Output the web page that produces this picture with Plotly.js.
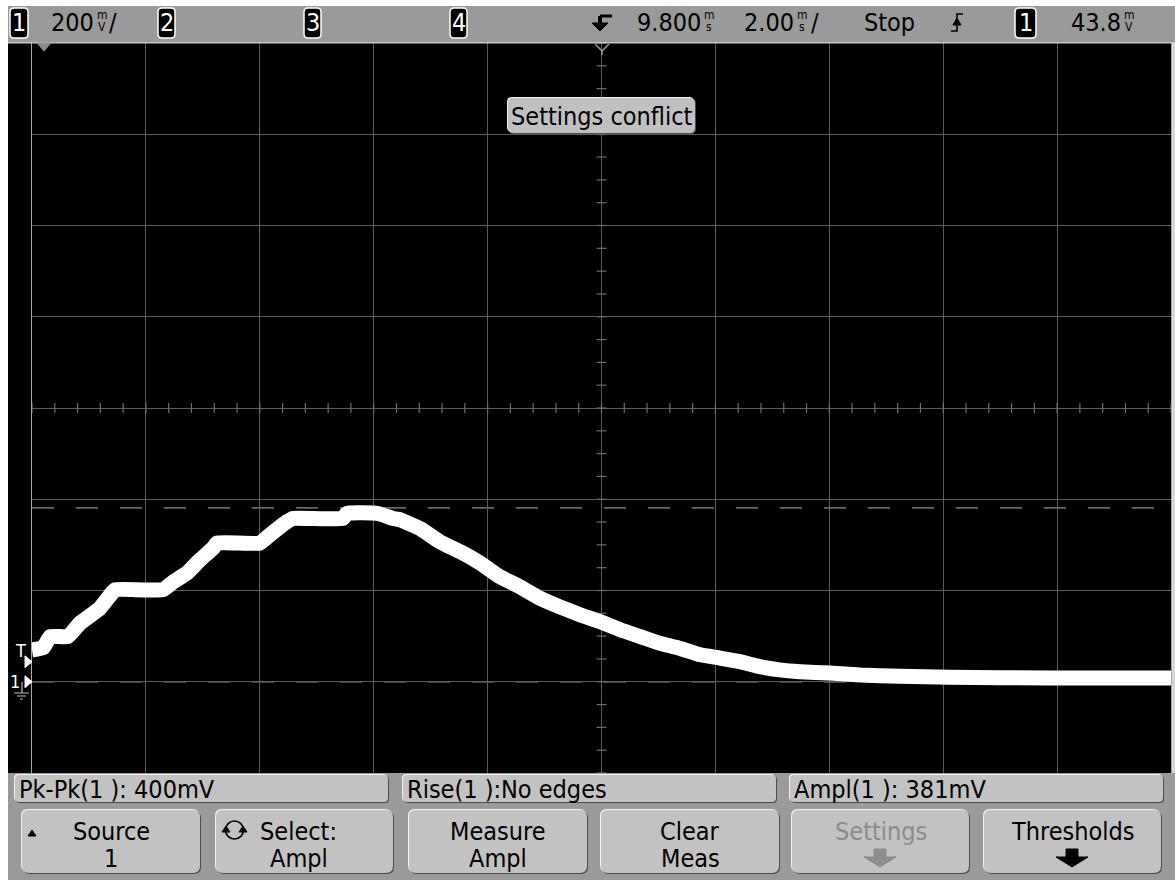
<!DOCTYPE html>
<html><head><meta charset="utf-8">
<script src="https://cdn.plot.ly/plotly-3.0.1.min.js"></script>
<style>html,body{margin:0;padding:0;background:#fff;}#chart{width:1175px;height:880px;}</style>
</head><body><div id="chart"></div>
<script>
// ---- data (time in ms, channel 1 in volts) ----
const timeMs = [-0.2, 0.0, 0.12, 0.43, 0.64, 0.99, 1.22, 1.26, 2.10, 2.28, 2.52, 2.75, 2.98, 3.05, 3.80, 3.98, 4.28, 4.38, 5.26, 5.33, 5.86, 6.14, 6.26, 6.61, 6.96, 7.32, 7.67, 8.02, 8.37, 8.72, 9.07, 9.42, 9.77, 10.13, 10.48, 10.83, 11.18, 11.53, 11.88, 12.23, 12.58, 12.93, 13.29, 13.81, 14.34, 15.04, 15.92, 16.80, 18.55, 19.8];
const volts  = [0.070, 0.075, 0.099, 0.099, 0.128, 0.161, 0.197, 0.202, 0.202, 0.219, 0.238, 0.267, 0.293, 0.304, 0.304, 0.322, 0.351, 0.358, 0.358, 0.369, 0.369, 0.358, 0.355, 0.336, 0.307, 0.285, 0.260, 0.230, 0.208, 0.183, 0.164, 0.147, 0.132, 0.114, 0.099, 0.084, 0.073, 0.059, 0.052, 0.044, 0.033, 0.026, 0.022, 0.019, 0.015, 0.012, 0.010, 0.009, 0.008, 0.008];

const measTop = 0.381, measBase = 0.0, trigLevel = 0.0438;
const xRange = [-0.2, 19.8], yRange = [-0.2, 1.4];
const xDiv = 2, yDiv = 0.2, xCenter = 9.8, yCenter = 0.6;

const topTexts = ["200", "9.800", "2.00", "Stop", "43.8"];
const measLabels = ["Pk-Pk(1 ): 400mV", "Rise(1 ):No edges", "Ampl(1 ): 381mV"];
const keyLine1 = ["Source", "Select:", "Measure", "Clear", "Settings", "Thresholds"];
const keyLine2 = ["1", "Ampl", "Ampl", "Meas", "", ""];
const popupText = "Settings conflict";

// ---- helpers (pixel -> paper) ----
const W = 1175, H = 880;
const PX = x => x / W, PY = y => 1 - y / H;
const FONT = "'Liberation Sans Narrow', 'DejaVu Sans Condensed', 'Arial Narrow', sans-serif";
const shapes = [], ann = [];
function rect(x0, y0, x1, y1, fill, line, lw, layer) {
  shapes.push({type:'rect', xref:'paper', yref:'paper', x0:PX(x0), x1:PX(x1), y0:PY(y1), y1:PY(y0),
    fillcolor:fill, line:{color:line||fill, width:lw||0}, layer:layer||'above'});
}
function rr(x0, y0, x1, y1, r) {
  return `M ${PX(x0+r)},${PY(y0)} L ${PX(x1-r)},${PY(y0)} Q ${PX(x1)},${PY(y0)} ${PX(x1)},${PY(y0+r)} ` +
    `L ${PX(x1)},${PY(y1-r)} Q ${PX(x1)},${PY(y1)} ${PX(x1-r)},${PY(y1)} L ${PX(x0+r)},${PY(y1)} ` +
    `Q ${PX(x0)},${PY(y1)} ${PX(x0)},${PY(y1-r)} L ${PX(x0)},${PY(y0+r)} Q ${PX(x0)},${PY(y0)} ${PX(x0+r)},${PY(y0)} Z`;
}
function path(d, fill, line, lw, layer) {
  shapes.push({type:'path', xref:'paper', yref:'paper', path:d, fillcolor:fill||'rgba(0,0,0,0)',
    line:{color:line||'rgba(0,0,0,0)', width:lw||0}, layer:layer||'above'});
}
function poly(pts) { return 'M ' + pts.map(p => PX(p[0]) + ',' + PY(p[1])).join(' L ') + ' Z'; }
function bevelBox(x0, y0, x1, y1, r, fill) {
  path(rr(x0+1, y0+1, x1+1, y1+1, r), '#4a4a4a');
  path(rr(x0-1, y0-1, x1-1, y1-1, r), '#f4f4f4');
  path(rr(x0, y0, x1, y1, r), fill);
}
function text(t, x, y, size, color, xa, family) {
  ann.push({text:t, x:PX(x), y:PY(y), xref:'paper', yref:'paper', showarrow:false,
    xanchor:xa||'center', yanchor:'middle', font:{family:family||FONT, size:size, color:color||'#000'}});
}
function chanBox(label, x0, x1) {
  path(rr(x0, 8, x1, 38, 4), '#000', '#ffffff', 1.5);
  text(label, (x0+x1)/2, 23, 25, '#fff');
}
function unit(top, bot, x) {
  text(top, x, 15, 12, '#000');
  text(bot, x, 27, 12, '#000');
}

// ---- screen frame ----
rect(8, 43, 1172, 773, '#000', null, 0, 'below');
rect(8, 6, 1175, 43, '#9a9a9a');
rect(8, 42, 1175, 43.5, '#c8c8c8');
rect(8, 773, 1175, 880, '#9a9a9a');
rect(1172, 43, 1175, 773, '#d8d8d8');

// top status bar
chanBox('1', 10, 28);
text(topTexts[0], 96, 23, 25, '#000', 'right'); unit('m', 'V', 102); text('/', 113, 23, 25, '#000');
chanBox('2', 158, 175);
chanBox('3', 304, 321);
chanBox('4', 450, 467);
// delay/trigger arrow symbol
path(`M ${PX(600)},${PY(16)} L ${PX(612)},${PY(16)}`, null, '#000', 3);
path(`M ${PX(600)},${PY(16)} L ${PX(600)},${PY(24)}`, null, '#000', 4);
path(poly([[592,23],[608,23],[600,31]]), '#000', '#000', 1);
text(topTexts[1], 703, 23, 25, '#000', 'right'); unit('m', 's', 709);
text(topTexts[2], 796, 23, 25, '#000', 'right'); unit('m', 's', 802); text('/', 815, 23, 25, '#000');
text(topTexts[3], 889, 23, 25, '#000', 'center');
// slope symbol (rising edge)
path(`M ${PX(951)},${PY(31)} L ${PX(957)},${PY(31)} L ${PX(957)},${PY(14)} L ${PX(963)},${PY(14)}`, null, '#000', 1.6);
path(poly([[953,25],[961,25],[957,18]]), '#000', '#000', 1);
chanBox('1', 1015, 1036);
text(topTexts[4], 1123, 23, 25, '#000', 'right'); unit('m', 'V', 1129);

// time reference markers at top of graticule
path(poly([[37,43],[51,43],[44,51]]), '#8c8c8c', '#8c8c8c', 1);
path(`M ${PX(595)},${PY(44)} L ${PX(602)},${PY(51)} L ${PX(609)},${PY(44)} M ${PX(602)},${PY(51)} L ${PX(602)},${PY(55)}`, null, '#9a9a9a', 1.5);

// left markers: trigger level and channel ground
shapes.push({type:'path', xref:'paper', yref:'y', path:`M ${PX(25)},${trigLevel+0.013} L ${PX(32)},${trigLevel} L ${PX(25)},${trigLevel-0.013} Z`, fillcolor:'#fff', line:{color:'#fff', width:1}});
shapes.push({type:'path', xref:'paper', yref:'y', path:`M ${PX(25)},${measBase+0.013} L ${PX(32)},${measBase} L ${PX(25)},${measBase-0.013} Z`, fillcolor:'#fff', line:{color:'#fff', width:1}});
text('T', 20, 650, 18, '#fff');
text('1', 15, 681, 18, '#fff');
path(`M ${PX(22)},${PY(682)} L ${PX(22)},${PY(693)} M ${PX(14)},${PY(693)} L ${PX(29)},${PY(693)} M ${PX(17)},${PY(696)} L ${PX(26)},${PY(696)} M ${PX(20)},${PY(699)} L ${PX(23)},${PY(699)}`, null, '#bdbdbd', 1.2);

// popup
bevelBox(508, 98, 695, 133, 5, '#c0c0c0');
text(popupText, 601.5, 116, 25, '#000');

// measurement boxes
const measX = [[15, 388], [403, 776], [790, 1163]];
measLabels.forEach((m, i) => {
  bevelBox(measX[i][0], 775, measX[i][1], 802, 4, '#c2c2c2');
  text(m, measX[i][0] + 2, 789, 25, '#000', 'left');
});
// softkeys
const keyX = [[22, 200], [216, 393], [409, 587], [601, 779], [792, 969], [984, 1161]];
keyLine1.forEach((k, i) => {
  const cx = (keyX[i][0] + keyX[i][1]) / 2;
  bevelBox(keyX[i][0], 810, keyX[i][1], 873, 7, '#c2c2c2');
  const col = i === 4 ? '#8c8c8c' : '#000';
  const dx = i === 1 ? -6 : 0;
  text(k, cx + dx, 831, 25, col);
  if (keyLine2[i]) text(keyLine2[i], cx + dx, 858, 25, col);
});
// softkey decorations
path(poly([[28,836],[36,836],[32,830]]), '#000', '#000', 1);
shapes.push({type:'circle', xref:'paper', yref:'paper', x0:PX(225.5), x1:PX(243.5), y0:PY(839), y1:PY(821), line:{color:'#000', width:1.6}});
path(poly([[222,832],[230,832],[226,826]]), '#000', '#000', 1);
path(poly([[239,832],[247,832],[243,826]]), '#000', '#000', 1);
function downArrow(cx, col) {
  path(poly([[cx-6,849],[cx+6,849],[cx+6,857],[cx+16,857],[cx,867],[cx-16,857],[cx-6,857]]), col, col, 1);
}
downArrow(880, '#8c8c8c');
downArrow(1072, '#000');

// ---- graticule minor ticks on centre lines ----
const tickX = [], tickXY = [], tickY = [], tickYX = [];
for (let k = 0; k <= 50; k++) { tickX.push(xRange[0] + k * xDiv / 5); tickXY.push(yCenter); }
for (let k = 0; k <= 32; k++) { tickY.push(yRange[0] + k * yDiv / 4); tickYX.push(xCenter); }

// measurement cursor lines
[measTop, measBase].forEach(v => shapes.push({type:'line', xref:'x', yref:'y', x0:xRange[0], x1:xRange[1], y0:v, y1:v,
  line:{color:'#8f8f8f', width:1.3, dash:'22px,22px'}, layer:'below'}));

const traces = [
  {x:tickX, y:tickXY, mode:'markers', type:'scatter', marker:{symbol:'line-ns', size:7, line:{color:'#6e6e6e', width:1.2}}, hoverinfo:'skip'},
  {x:tickYX, y:tickY, mode:'markers', type:'scatter', marker:{symbol:'line-ew', size:7, line:{color:'#6e6e6e', width:1.2}}, hoverinfo:'skip'},
  {x:timeMs, y:volts, mode:'lines', type:'scatter', line:{color:'#ffffff', width:15, shape:'spline', smoothing:0.4}, hoverinfo:'skip'}
];

const layout = {
  width: W, height: H, margin:{l:0, r:0, t:0, b:0},
  paper_bgcolor:'#ffffff', plot_bgcolor:'#000000', showlegend:false,
  xaxis:{domain:[PX(32), PX(1171)], range:xRange, tick0:xRange[0], dtick:xDiv, showgrid:true, gridcolor:'#5c5c5c', gridwidth:1,
    zeroline:false, showticklabels:false, ticks:'', showline:true, linecolor:'#a8a8a8', linewidth:1.5, mirror:true, fixedrange:true},
  yaxis:{domain:[PY(773), PY(43)], range:yRange, tick0:yRange[0], dtick:yDiv, showgrid:true, gridcolor:'#5c5c5c', gridwidth:1,
    zeroline:false, showticklabels:false, ticks:'', showline:true, linecolor:'#a8a8a8', linewidth:1.5, mirror:true, fixedrange:true},
  shapes: shapes, annotations: ann
};
Plotly.newPlot('chart', traces, layout, {displayModeBar:false, staticPlot:true});
</script></body></html>
